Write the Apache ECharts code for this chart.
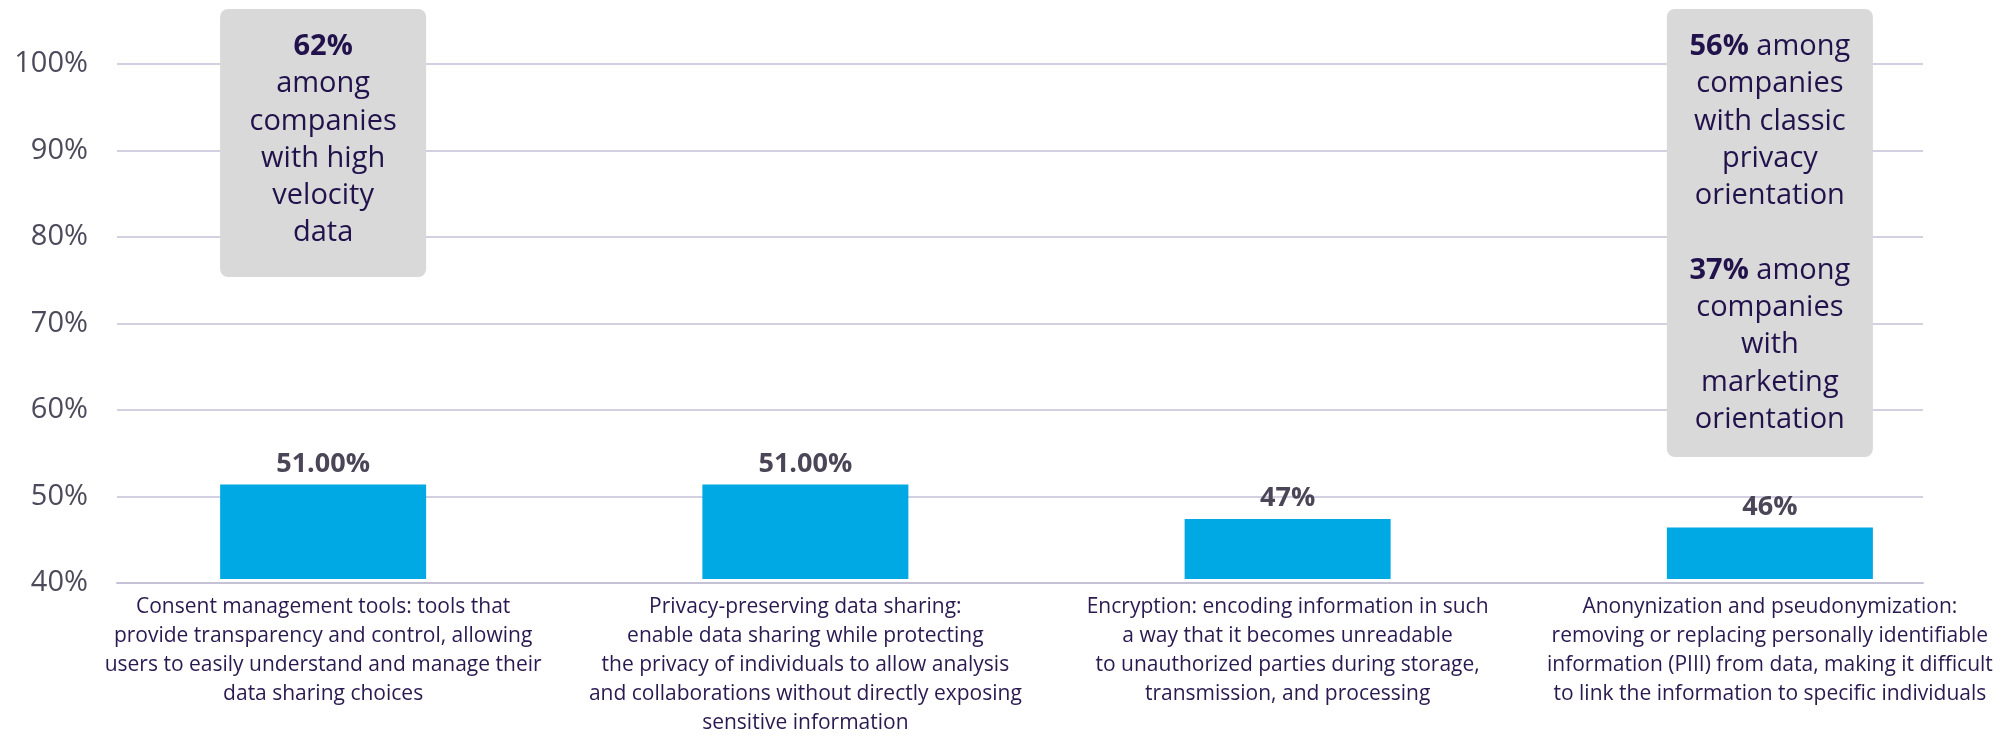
<!DOCTYPE html>
<html>
<head>
<meta charset="utf-8">
<script src="https://cdn.jsdelivr.net/npm/echarts@6/dist/echarts.min.js"></script>
<style>
  html, body { margin: 0; padding: 0; background: #ffffff; }
  #chart { width: 2013px; height: 738px; }
</style>
</head>
<body>
<div id="chart"></div>
<script>
// Privacy-enhancing techniques in use: share of companies
const categories = [
  'Consent management tools: tools that\nprovide transparency and control, allowing\nusers to easily understand and manage their\ndata sharing choices',
  'Privacy-preserving data sharing:\nenable data sharing while protecting\nthe privacy of individuals to allow analysis\nand collaborations without directly exposing\nsensitive information',
  'Encryption: encoding information in such\na way that it becomes unreadable\nto unauthorized parties during storage,\ntransmission, and processing',
  'Anonynization and pseudonymization:\nremoving or replacing personally identifiable\ninformation (PIII) from data, making it difficult\nto link the information to specific individuals'
];
const values = [51, 51, 47, 46];
const valueLabels = ['51.00%', '51.00%', '47%', '46%'];

const yMin = 40;
const yMax = 100;
const yStep = 10;

// Call-out boxes: which category they sit above, and their text
const noteCategories = [0, 3];
const noteTexts = [
  '{b|62%}\n{n|among}\n{n|companies}\n{n|with high}\n{n|velocity}\n{n|data}',
  '{b|56%}{n| among}\n{n|companies}\n{n|with classic}\n{n|privacy}\n{n|orientation}\n{n| }\n{b|37%}{n| among}\n{n|companies}\n{n|with}\n{n|marketing}\n{n|orientation}'
];
const noteHeights = [268, 448];

const FONT = "'Open Sans', 'Noto Sans', sans-serif";
const INK = '#22124c';

const chart = echarts.init(document.getElementById('chart'), null, { renderer: 'canvas' });

const option = {
  backgroundColor: '#ffffff',
  animation: false,
  grid: [
    { left: 117, right: 90, top: 64, bottom: 155, containLabel: false },
    { left: 82, right: 2, top: 64, bottom: 155, containLabel: false }
  ],
  xAxis: [
    {
      gridIndex: 0,
      type: 'category',
      data: categories,
      axisLabel: { show: false },
      axisTick: { show: false },
      axisLine: { show: true, lineStyle: { color: '#c5c2d6', width: 2 } },
      splitLine: { show: false }
    },
    {
      gridIndex: 1,
      type: 'category',
      data: categories,
      axisTick: { show: false },
      axisLine: { show: false },
      axisLabel: {
        interval: 0,
        margin: 14,
        color: '#2a1a50',
        fontFamily: FONT,
        fontSize: 21,
        lineHeight: 29,
        align: 'center'
      }
    }
  ],
  yAxis: [
    {
      gridIndex: 0,
      type: 'value',
      min: yMin,
      max: yMax,
      interval: yStep,
      axisLine: { show: false },
      axisTick: { show: false },
      axisLabel: {
        formatter: '{value}%',
        margin: 29,
        color: '#4d4a5c',
        fontFamily: FONT,
        fontSize: 29
      },
      splitLine: { show: true, lineStyle: { color: '#d3d0e2', width: 2 } }
    },
    {
      gridIndex: 1,
      type: 'value',
      min: yMin,
      max: yMax,
      interval: yStep,
      show: false,
      splitLine: { show: false }
    }
  ],
  series: [
    {
      type: 'bar',
      xAxisIndex: 1,
      yAxisIndex: 1,
      data: values,
      barWidth: 206,
      itemStyle: { color: '#00a8e4' },
      label: {
        show: true,
        position: 'top',
        distance: 7,
        formatter: (p) => valueLabels[p.dataIndex],
        color: '#4a4557',
        fontFamily: FONT,
        fontWeight: 'bold',
        fontSize: 27
      },
      z: 3
    }
  ]
};

chart.setOption(option);

// Call-out boxes placed above their category's bar
const graphics = [];
noteCategories.forEach((ci, i) => {
  const cx = chart.convertToPixel({ xAxisIndex: 1 }, categories[ci]);
  const w = 206;
  graphics.push({
    type: 'rect',
    shape: { x: cx - w / 2, y: 9, width: w, height: noteHeights[i], r: 8 },
    style: { fill: '#d9d9d9' },
    z: 10
  });
  graphics.push({
    type: 'text',
    x: cx,
    y: 28,
    style: {
      text: noteTexts[i],
      align: 'center',
      verticalAlign: 'top',
      fontFamily: FONT,
      fontSize: 29,
      lineHeight: 37.3,
      fill: INK,
      rich: {
        b: { fontFamily: FONT, fontSize: 29, fontWeight: 'bold', lineHeight: 37.3, fill: INK, color: INK },
        n: { fontFamily: FONT, fontSize: 29, fontWeight: 'normal', lineHeight: 37.3, fill: INK, color: INK }
      }
    },
    z: 11
  });
});
chart.setOption({ graphic: graphics });
</script>
</body>
</html>
